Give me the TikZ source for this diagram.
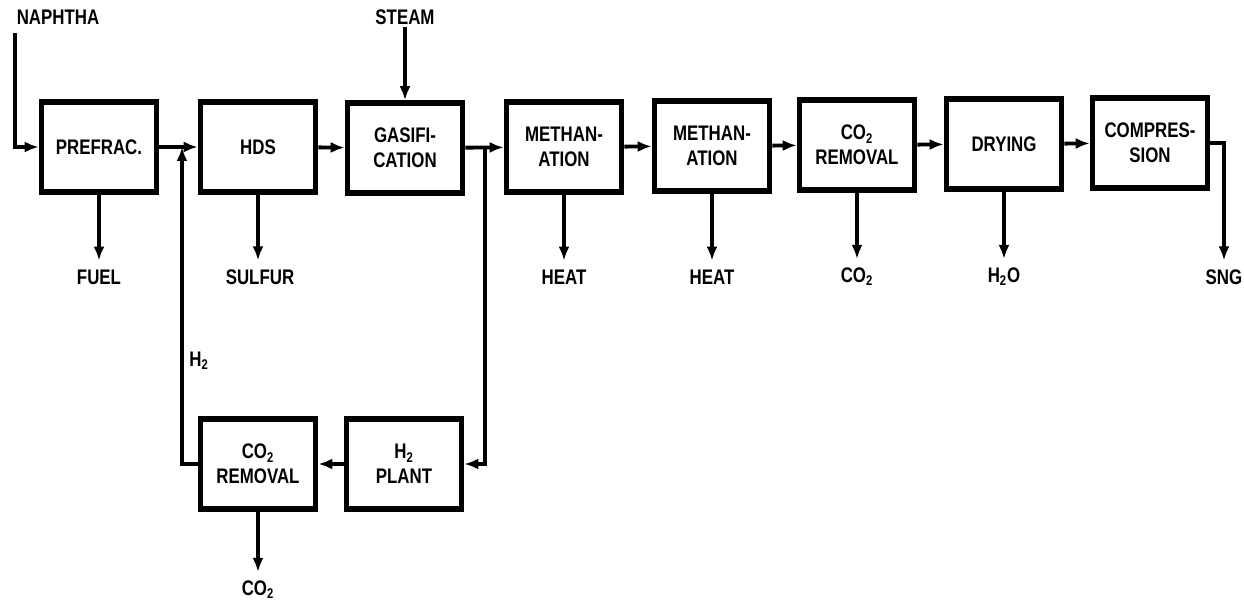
\documentclass[tikz,border=0pt]{standalone}
\usepackage{fontspec}
\newfontfamily\flowfont{Liberation Sans}[FakeStretch=0.8]
\usetikzlibrary{arrows.meta,positioning,calc}
\tikzset{
  label/.style={font=\flowfont\bfseries\fontsize{12}{14}\selectfont,text=black,inner sep=1pt},
  outlbl/.style={font=\flowfont\bfseries\fontsize{12}{14}\selectfont,text=black,inner sep=5pt},
  unit/.style={draw=black,line width=3.2pt,fill=white,minimum width=2.3cm,minimum height=1.8cm,align=center,
    font=\flowfont\bfseries\fontsize{12}{14}\selectfont},
  arr/.style={-{Latex[length=2.8mm,width=2.2mm]},draw=black,line width=2.2pt}
}

\begin{document}
\begin{tikzpicture}[x=0.02cm,y=-0.02cm]
\path[use as bounding box,fill=white] (0,0) rectangle (1244,611);
% main row
\node[unit] (prefrac) at (99,147) {PREFRAC.};
\node[unit] (hds) at (258,147) {HDS};
\node[unit] (gasif) at (405,148) {GASIFI-\\CATION};
\node[unit] (meth1) at (564,147) {METHAN-\\ATION};
\node[unit] (meth2) at (712,146) {METHAN-\\ATION};
\node[unit] (coremA) at (857,145) {CO\textsubscript{2}\\REMOVAL};
\node[unit] (drying) at (1004,144) {DRYING};
\node[unit] (compr) at (1150,143) {COMPRES-\\SION};
% hydrogen loop
\node[unit] (coremB) at (258,464) {CO\textsubscript{2}\\REMOVAL};
\node[unit] (htplant) at (404,464) {H\textsubscript{2}\\PLANT};

\node[label] (naphtha) at (58,17) {NAPHTHA};
\node[label] (steam) at (405,17) {STEAM};
\node[outlbl] (fuel) at (99,277) {FUEL}; \node[outlbl] (sulfur) at (260,277) {SULFUR};
\node[outlbl] (heatA) at (564,277) {HEAT}; \node[outlbl] (heatB) at (712,277) {HEAT};
\node[outlbl] (cotwoA) at (857,277) {CO\textsubscript{2}}; \node[outlbl] (water) at (1004,277) {H\textsubscript{2}O};
\node[outlbl] (sng) at (1224,277) {SNG};
\node[outlbl] (cotwoB) at (258,590) {CO\textsubscript{2}};
\node[label] (htwo) at (199,361) {H\textsubscript{2}};

\coordinate (nin) at (15,33);
\coordinate (junA) at (182,147);
\coordinate (junB) at (485,148);

\draw[arr] (nin) |- (prefrac);
\draw[arr] (prefrac) -- (hds); \draw[arr] (hds) -- (gasif);
\draw[arr] (gasif) -- (meth1); \draw[arr] (meth1) -- (meth2);
\draw[arr] (meth2) -- (coremA); \draw[arr] (coremA) -- (drying);
\draw[arr] (drying) -- (compr);
\draw[arr] (compr.east) -| (sng.north);
\draw[arr] (steam.south) -- (gasif.north);
\draw[arr] (prefrac) -- (fuel); \draw[arr] (hds) -- (hds |- sulfur.north);
\draw[arr] (meth1) -- (heatA); \draw[arr] (meth2) -- (heatB);
\draw[arr] (coremA) -- (cotwoA); \draw[arr] (drying) -- (water);
\draw[arr] (junB) |- (htplant);
\draw[arr] (htplant) -- (coremB);
\draw[arr] (coremB.west) -| (junA);
\draw[arr] (coremB) -- (cotwoB);
\end{tikzpicture}
\end{document}
